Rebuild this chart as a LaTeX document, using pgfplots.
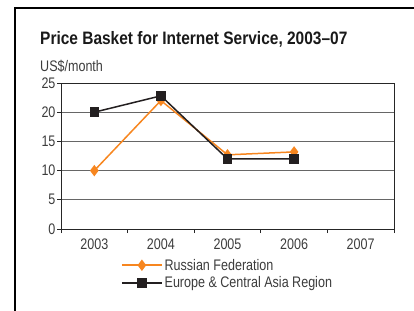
\documentclass[border=0pt]{standalone}
\usepackage{fontspec}
\setmainfont{Liberation Sans}[FakeStretch=0.82]
\newfontfamily\titlefont{Liberation Sans}[FakeStretch=0.86,Ligatures=TeX]
\usepackage{pgfplots}
\pgfplotsset{compat=1.18}
\definecolor{rus}{RGB}{247,134,31}
\definecolor{eca}{RGB}{35,31,32}
\definecolor{txt}{RGB}{60,60,60}
\begin{document}
\begin{tikzpicture}
\node[anchor=base west, inner sep=0, font=\titlefont\fontsize{18}{21}\selectfont\bfseries, text=black!90] at (40pt,265pt) {Price Basket for Internet Service, 2003–07};
\node[anchor=base west, inner sep=0, font=\fontsize{15.3}{18}\selectfont, text=txt] at (40pt,238pt) {US\$/month};
\begin{axis}[
  at={(61pt,81pt)}, anchor=south west,
  scale only axis, width=333pt, height=146pt,
  xmin=-0.5, xmax=4.5, ymin=0, ymax=25,
  xtick={0,1,2,3,4}, xticklabels={2003,2004,2005,2006,2007},
  major x tick style={draw=none},
  minor xtick={-0.5,0.5,1.5,2.5,3.5,4.5},
  ytick={0,5,10,15,20,25},
  tick align=outside, tick pos=left,
  major tick length=4pt, minor tick length=4pt,
  tick style={black!85, line width=0.8pt},
  axis line style={black!85, line width=0.8pt},
  ymajorgrids, major grid style={black!60, line width=0.8pt},
  /pgf/number format/assume math mode=true,
  ticklabel style={font=\fontsize{15.3}{18}\selectfont, text=txt},
  yticklabel style={xshift=2pt},
  xticklabel style={yshift=-2pt},
  legend style={at={(0.18,-0.19)}, anchor=north west, draw=none, fill=none,
    font=\fontsize{15.3}{18}\selectfont, text=txt, inner sep=0pt,
    row sep=1pt},
  legend cell align=left,
  legend image code/.code={\draw[mark repeat=2,mark phase=2,#1] plot coordinates {(0pt,0pt) (20pt,0pt) (40pt,0pt)};},
]
\addplot[rus, line width=1.5pt, mark=diamond*, mark size=4.5pt, mark options={solid}] coordinates {(0,10) (1,22) (2,12.7) (3,13.2)};
\addlegendentry{Russian Federation}
\addplot[eca, line width=1.5pt, mark=square*, mark size=4pt] coordinates {(0,20) (1,22.8) (2,12) (3,12)};
\addlegendentry{Europe \& Central Asia Region}
\end{axis}
\pgfresetboundingbox
\path[use as bounding box] (0pt,0pt) rectangle (414pt,310pt);
\draw[line width=1.5pt, black] (15pt,-2pt) |- (416pt,302pt);
\end{tikzpicture}
\end{document}
